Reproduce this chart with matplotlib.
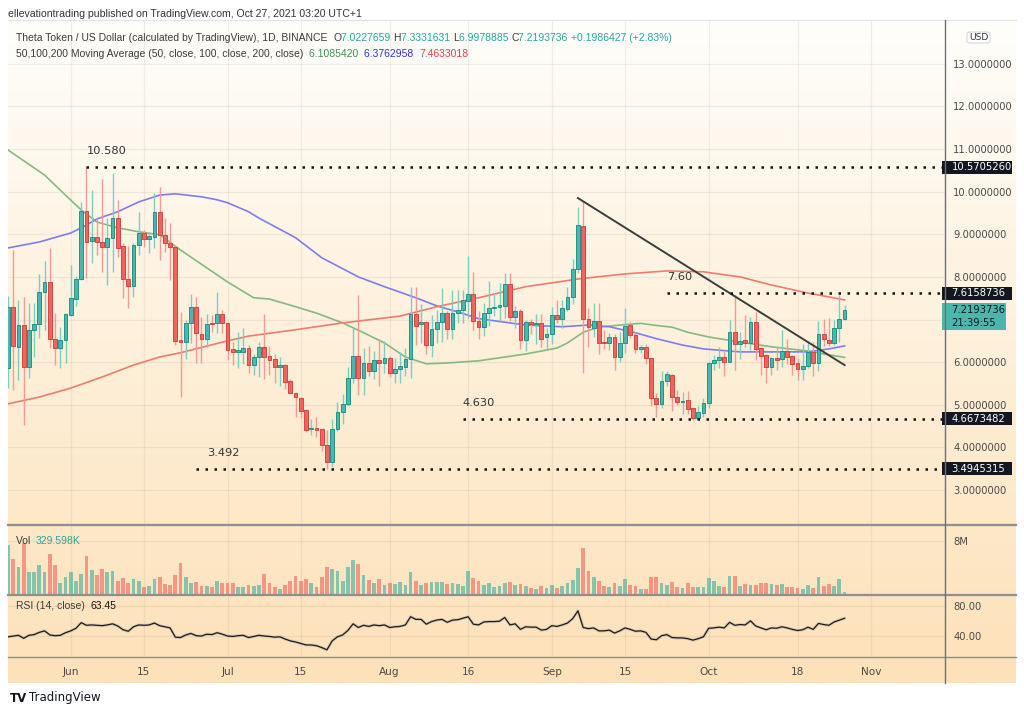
import numpy as np
import pandas as pd
import matplotlib
matplotlib.use("Agg")
import matplotlib.pyplot as plt
import matplotlib.dates as mdates
from matplotlib.patches import Rectangle, FancyBboxPatch
from matplotlib.lines import Line2D
from matplotlib.transforms import blended_transform_factory

plt.rcParams['font.family'] = ['DejaVu Sans']

# ---- data ----
start = "2021-05-20"
opens = [5.86, 7.30, 6.36, 6.87, 5.89, 6.76, 6.90, 7.65, 7.88, 6.54, 6.33, 6.52,
         7.11, 7.48, 7.95, 9.55, 8.85, 8.94, 8.82, 8.70, 8.92, 9.38, 8.73, 7.95, 7.79, 8.75, 9.03,
         8.89, 8.94, 9.53, 8.99, 8.80, 8.70, 6.52, 6.48, 6.92, 7.30, 6.66, 6.55, 6.92, 6.92, 7.13,
         6.92, 6.31, 6.24, 6.24, 6.33, 5.93, 6.12, 6.36, 6.14, 6.07, 5.89, 5.93, 5.56, 5.28, 5.16,
         4.88, 4.43, 4.45, 4.43, 4.06, 3.66, 4.43, 4.83, 5.02, 5.63, 6.14, 5.63, 5.98, 5.79, 6.05, 5.98,
         6.10, 5.75, 5.84, 5.89, 6.07, 7.13, 6.90, 6.94, 6.40, 6.78, 6.94, 7.15, 6.78, 7.15, 7.23,
         7.44, 7.60, 6.97, 6.83, 7.15, 7.27, 7.30, 7.32, 7.84, 7.06, 7.20, 6.52, 6.94, 6.90, 6.92, 6.59,
         6.66, 7.11, 7.01, 7.25, 7.53, 8.19, 9.20, 7.01, 6.80, 6.97, 6.47, 6.45, 6.59, 6.12, 6.45,
         6.87, 6.64, 6.31, 6.36, 6.10, 5.16, 5.02, 5.56, 5.70, 5.18, 5.07, 5.11, 4.92, 4.69, 4.81,
         5.04, 5.98, 6.05, 6.12, 6.01, 6.71, 6.43, 6.52, 6.45, 6.94, 6.33, 6.17, 5.89, 6.10, 6.08,
         6.26, 6.14, 5.98, 5.84, 5.91, 6.24, 5.98, 6.66, 6.52, 6.45, 6.80, 7.02]
highs = [7.55, 8.63, 7.46, 7.53, 7.39, 7.39, 8.07, 8.38, 8.68, 7.15, 6.83, 7.15,
         8.28, 8.02, 9.76, 10.57, 10.04, 9.38, 10.30, 9.38, 10.44, 9.81, 8.80, 8.73, 8.80, 9.53, 9.10,
         9.03, 9.97, 10.11, 9.38, 9.27, 8.75, 7.18, 7.00, 7.60, 7.53, 7.06, 7.13, 7.11, 7.65, 7.23,
         6.95, 6.47, 6.70, 6.80, 6.40, 6.20, 6.47, 7.13, 6.38, 6.20, 6.12, 5.95, 5.60, 5.30, 5.18,
         4.90, 4.67, 4.72, 4.45, 4.41, 4.67, 5.06, 5.25, 5.88, 6.80, 7.58, 6.33, 6.38, 6.26, 6.50, 6.50,
         6.15, 6.10, 6.23, 6.33, 7.77, 7.77, 7.36, 6.97, 7.10, 7.23, 7.73, 7.20, 7.69, 7.69, 7.69,
         8.49, 8.12, 7.20, 7.39, 7.91, 7.62, 7.85, 8.09, 8.09, 7.32, 7.25, 7.00, 7.01, 7.13, 7.13, 6.80,
         7.30, 7.46, 7.46, 7.77, 8.42, 9.64, 9.78, 7.27, 7.39, 7.39, 6.76, 6.69, 6.66, 6.71, 7.27,
         6.94, 6.71, 6.40, 6.42, 6.12, 5.28, 5.79, 5.79, 5.72, 5.35, 5.31, 5.33, 4.95, 4.97, 5.16,
         6.00, 6.17, 6.36, 6.29, 6.99, 7.57, 6.71, 7.11, 7.06, 7.18, 6.36, 6.19, 6.12, 6.36, 6.76,
         6.55, 6.16, 6.10, 6.43, 6.50, 6.47, 6.97, 7.01, 7.04, 6.99, 7.58, 7.33]
lows = [5.40, 5.35, 5.58, 4.53, 5.63, 6.12, 6.57, 6.76, 6.33, 5.93, 5.86, 5.98,
        7.08, 7.32, 7.93, 7.98, 8.33, 8.52, 8.12, 7.81, 8.12, 8.47, 7.51, 7.27, 7.53, 8.52, 8.70,
        8.56, 8.68, 8.40, 8.59, 7.93, 6.40, 5.18, 6.08, 6.45, 5.98, 5.98, 6.36, 6.71, 6.69, 6.69,
        6.05, 5.93, 5.85, 5.95, 5.75, 5.70, 5.66, 5.60, 5.70, 5.52, 5.45, 5.38, 5.24, 4.72, 4.69,
        4.36, 4.28, 4.24, 3.91, 3.49, 3.54, 4.38, 4.55, 4.98, 5.50, 5.23, 5.23, 5.68, 5.61, 5.45, 5.74,
        5.64, 5.50, 5.50, 5.68, 5.63, 6.40, 6.45, 6.19, 6.12, 6.45, 6.47, 6.55, 6.55, 6.92, 6.92,
        7.04, 6.76, 6.55, 6.62, 6.85, 7.08, 6.97, 7.04, 6.97, 6.80, 6.31, 6.27, 6.66, 6.43, 6.36, 6.31,
        6.43, 6.92, 6.80, 7.20, 7.36, 8.10, 5.75, 6.36, 6.59, 6.19, 6.31, 6.29, 5.82, 6.00, 6.22,
        6.57, 6.22, 6.22, 5.96, 4.98, 4.71, 4.93, 5.45, 4.85, 5.00, 4.79, 4.79, 4.64, 4.64, 4.71,
        4.92, 5.82, 5.86, 5.68, 6.00, 5.82, 6.08, 6.36, 6.29, 6.05, 5.70, 5.51, 5.70, 5.82, 5.89,
        5.96, 5.70, 5.58, 5.58, 5.86, 5.68, 5.79, 6.38, 6.38, 6.40, 6.47, 7.00]
closes = [7.30, 6.38, 6.87, 5.89, 6.76, 6.90, 7.65, 7.88, 6.54, 6.33, 6.52, 7.13,
          7.51, 7.95, 9.55, 8.82, 8.94, 8.82, 8.70, 8.92, 9.38, 8.68, 7.95, 7.79, 8.75, 9.03, 8.89,
          8.96, 9.53, 8.99, 8.80, 8.70, 6.50, 6.48, 6.92, 7.30, 6.69, 6.55, 6.90, 6.90, 7.13, 6.92,
          6.29, 6.24, 6.29, 6.33, 5.93, 6.12, 6.36, 6.12, 6.05, 5.89, 5.93, 5.54, 5.28, 5.18, 4.85,
          4.41, 4.45, 4.41, 4.06, 3.66, 4.43, 4.83, 5.02, 5.63, 6.14, 5.63, 5.98, 5.79, 6.05, 5.98, 6.10,
          5.75, 5.84, 5.91, 6.07, 7.13, 6.85, 6.94, 6.40, 6.78, 6.94, 7.15, 6.78, 7.15, 7.23, 7.46,
          7.60, 6.97, 6.83, 7.15, 7.27, 7.30, 7.34, 7.84, 7.06, 7.20, 6.52, 6.94, 6.90, 6.92, 6.55, 6.66,
          7.11, 7.01, 7.27, 7.53, 8.19, 9.22, 7.01, 6.83, 6.97, 6.45, 6.45, 6.59, 6.12, 6.45, 6.85,
          6.64, 6.31, 6.36, 6.10, 5.16, 5.02, 5.56, 5.72, 5.18, 5.07, 5.09, 4.90, 4.69, 4.83, 5.04,
          5.98, 6.05, 6.12, 6.01, 6.71, 6.43, 6.50, 6.45, 6.94, 6.31, 6.14, 5.89, 6.10, 6.05, 6.26,
          6.12, 5.96, 5.84, 5.91, 6.24, 5.98, 6.66, 6.55, 6.45, 6.80, 7.01, 7.22]
volumes = [7.4, 5.3, 4.0, 7.7, 3.3, 3.3, 4.3, 3.3, 6.0, 4.3, 1.6, 2.5,
           3.3, 1.9, 3.0, 5.8, 3.6, 2.8, 3.7, 3.3, 3.5, 2.0, 2.4, 1.6, 2.2, 1.9, 1.1, 1.2, 2.2, 2.6, 1.5,
           1.3, 2.9, 4.6, 2.5, 1.7, 1.8, 1.2, 1.2, 1.0, 1.9, 1.6,
           1.7, 1.6, 1.0, 1.1, 1.4, 1.2, 1.4, 3.0, 1.7, 1.0, 0.8, 1.3, 1.9, 2.7, 1.9, 2.2, 1.6, 1.1, 2.5,
           4.1, 3.7, 3.4, 2.0, 4.1, 5.1, 4.5, 2.9, 2.1, 1.6, 2.2, 1.4,
           1.6, 1.5, 1.8, 1.4, 3.3, 2.0, 1.3, 1.7, 1.8, 1.8, 1.8, 1.5, 1.7, 1.5, 1.2, 3.5, 2.4, 1.9, 1.3,
           1.6, 1.0, 1.2, 1.7, 1.8, 1.3, 1.5, 1.2, 0.9, 0.7, 1.2, 0.9,
           1.3, 0.9, 1.2, 1.6, 2.1, 3.9, 7.0, 3.5, 2.6, 2.0, 1.2, 1.1, 1.6, 1.2, 2.2, 1.3, 1.2, 0.8, 0.7,
           2.6, 2.6, 1.6, 1.3, 1.8, 1.1, 0.9, 1.6, 1.1, 1.0, 1.1,
           2.4, 2.0, 1.2, 1.0, 2.7, 2.7, 1.2, 1.5, 1.4, 1.4, 1.6, 1.6, 1.5, 1.3, 1.5, 1.0, 1.1, 0.9, 0.8,
           1.3, 0.9, 2.5, 1.2, 1.5, 1.2, 2.3, 0.33]
rsi = [38.5, 39.5, 40.5, 36.5, 40.5, 41.5, 44.5, 46.5, 41.0, 40.0, 40.5, 44.0,
       46.5, 50.0, 57.5, 54.0, 54.5, 54.0, 53.5, 54.5, 56.0, 53.0, 48.0, 46.0, 52.0, 54.5, 54.0,
       54.5, 57.0, 53.5, 52.0, 50.5, 38.0, 37.5, 41.0, 43.0, 40.0, 39.5, 42.0, 41.5, 44.0, 42.0,
       39.5, 39.0, 40.0, 40.5, 37.5, 39.0, 40.5, 39.5, 39.0, 38.0, 38.5, 35.5, 33.0, 31.5, 29.5,
       27.5, 27.5, 26.5, 24.0, 21.0, 33.0, 38.5, 41.0, 47.0, 56.0, 51.0, 54.0, 52.5, 54.5, 53.5, 54.5,
       51.0, 52.0, 52.5, 54.5, 65.5, 62.0, 62.0, 55.5, 59.0, 61.0, 62.0, 58.0, 61.0, 61.5, 63.5,
       65.5, 55.5, 54.5, 58.5, 59.0, 59.0, 59.5, 64.5, 54.5, 56.0, 48.5, 52.0, 51.5, 51.5, 47.5, 48.5,
       53.5, 52.5, 54.5, 57.0, 63.0, 73.5, 51.0, 49.5, 50.5, 46.5, 46.5, 47.5, 43.5, 46.5, 50.5,
       48.5, 46.0, 46.5, 44.5, 35.5, 34.5, 40.0, 41.5, 37.5, 37.0, 37.0, 36.0, 34.0, 36.0, 38.5,
       50.0, 50.5, 51.5, 50.5, 58.0, 54.0, 55.0, 54.5, 60.0, 53.0, 50.5, 48.0, 50.5, 50.0, 52.0,
       50.5, 48.5, 47.0, 48.0, 51.5, 48.5, 56.5, 55.0, 54.0, 58.5, 61.0, 63.45]

ma50_dates = ["2021-05-20", "2021-05-27", "2021-05-31", "2021-06-03", "2021-06-06", "2021-06-10",
              "2021-06-14", "2021-06-18", "2021-06-22", "2021-07-01", "2021-07-06", "2021-07-09",
              "2021-07-14", "2021-07-18", "2021-07-23", "2021-07-27", "2021-07-31", "2021-08-04",
              "2021-08-08", "2021-08-12", "2021-08-18", "2021-08-27", "2021-09-02", "2021-09-04",
              "2021-09-07", "2021-09-10", "2021-09-14", "2021-09-18", "2021-09-21", "2021-09-24",
              "2021-09-27", "2021-10-01", "2021-10-07", "2021-10-13", "2021-10-20", "2021-10-24",
              "2021-10-27"]
ma50 = [10.98, 10.39, 9.92, 9.57, 9.29, 9.15, 9.06, 8.99, 8.63, 7.88, 7.51, 7.48, 7.30, 7.15,
        6.92, 6.69, 6.45, 6.12, 5.96, 5.98, 6.03, 6.19, 6.33, 6.45, 6.70, 6.82, 6.87, 6.91, 6.86,
        6.82, 6.70, 6.59, 6.47, 6.36, 6.26, 6.17, 6.11]
ma100_dates = ["2021-05-20", "2021-05-26", "2021-06-01", "2021-06-03", "2021-06-06", "2021-06-10",
               "2021-06-14", "2021-06-18", "2021-06-21", "2021-06-26", "2021-06-29", "2021-07-01",
               "2021-07-05", "2021-07-07", "2021-07-14", "2021-07-19", "2021-07-26", "2021-07-31",
               "2021-08-06", "2021-08-10", "2021-08-14", "2021-08-18", "2021-08-27", "2021-09-03",
               "2021-09-08", "2021-09-12", "2021-09-17", "2021-09-21", "2021-09-26", "2021-09-30",
               "2021-10-07", "2021-10-13", "2021-10-20", "2021-10-24", "2021-10-27"]
ma100 = [8.68, 8.82, 9.03, 9.15, 9.36, 9.53, 9.76, 9.92, 9.95, 9.88, 9.81, 9.74, 9.53, 9.38,
         8.92, 8.45, 8.00, 7.77, 7.51, 7.32, 7.18, 7.02, 6.87, 6.83, 6.87, 6.83, 6.69, 6.55, 6.40,
         6.31, 6.24, 6.24, 6.24, 6.31, 6.38]
ma200_dates = ["2021-05-20", "2021-05-26", "2021-06-01", "2021-06-07", "2021-06-13", "2021-06-18",
               "2021-06-22", "2021-07-01", "2021-07-05", "2021-07-14", "2021-07-23", "2021-08-03",
               "2021-08-10", "2021-08-18", "2021-08-27", "2021-09-06", "2021-09-15", "2021-09-23",
               "2021-09-30", "2021-10-07", "2021-10-13", "2021-10-20", "2021-10-24", "2021-10-27"]
ma200 = [5.02, 5.18, 5.39, 5.65, 5.93, 6.12, 6.22, 6.50, 6.61, 6.76, 6.92, 7.08, 7.30, 7.51,
         7.77, 7.95, 8.07, 8.14, 8.12, 8.00, 7.81, 7.62, 7.53, 7.46]

trend_dates = ["2021-09-06", "2021-10-27"]
trend_prices = [9.85, 5.93]

level_prices = [10.5705260, 7.6158736, 4.6673482, 3.4945315]
level_starts = ["2021-06-04", "2021-09-23", "2021-08-15", "2021-06-25"]
level_texts = ["10.580", "7.60", "4.630", "3.492"]
level_text_dates = ["2021-06-04", "2021-09-23", "2021-08-15", "2021-06-27"]

price_ticks = [3, 4, 5, 6, 8, 9, 10, 11, 12, 13]
tick_dates = ["2021-06-01", "2021-06-15", "2021-07-01", "2021-07-15", "2021-08-01", "2021-08-16",
              "2021-09-01", "2021-09-15", "2021-10-01", "2021-10-18", "2021-11-01"]
tick_labels = ["Jun", "15", "Jul", "15", "Aug", "16", "Sep", "15", "Oct", "18", "Nov"]

assert len(opens) == len(highs) == len(lows) == len(closes) == len(volumes) == len(rsi) == 161

# ---- figure ----
W, H = 1024, 714
fig = plt.figure(figsize=(W / 100, H / 100), dpi=100)
fig.patch.set_facecolor("white")

def rect(l, t, r, b):
    return [l / W, 1 - b / H, (r - l) / W, (b - t) / H]

# gradient background
ax_bg = fig.add_axes(rect(8, 20, 1016, 683))
top_c = np.array([255, 254, 251]) / 255
bot_c = np.array([253, 225, 184]) / 255
tt = np.linspace(0, 1, 256)[:, None]
grad = (top_c[None, :] * (1 - tt) + bot_c[None, :] * tt)[:, None, :]
ax_bg.imshow(grad, aspect="auto", extent=[0, 1, 0, 1])
ax_bg.axis("off")
ax_bg.set_zorder(-5)

ax = fig.add_axes(rect(8, 20, 945, 524))
axv = fig.add_axes(rect(8, 525, 945, 594), sharex=ax)
axr = fig.add_axes(rect(8, 595, 945, 657), sharex=ax)
for a in (ax, axv, axr):
    a.set_facecolor("none")
    for s in a.spines.values():
        s.set_visible(False)
    a.yaxis.tick_right()
    a.tick_params(axis="both", length=0, colors="#4a4a4a", labelsize=7.2)

dates = pd.date_range(start, periods=len(opens), freq="D")
x = mdates.date2num(dates)
o = np.array(opens); c = np.array(closes); hi = np.array(highs); lo = np.array(lows)
up = c >= o

jun1 = mdates.date2num(pd.Timestamp("2021-06-01"))
ax.set_xlim(jun1 - 12.0, jun1 + 167.2)
ax.set_ylim(2.20, 14.03)
axv.set_ylim(0, 10.4)
axr.set_ylim(11.3, 94.8)

grid_c = (0.55, 0.5, 0.45, 0.12)
tdx = mdates.date2num(pd.to_datetime(tick_dates))
for a in (ax, axv, axr):
    for t in tdx:
        a.axvline(t, color=grid_c, lw=0.9, zorder=0)
for p in price_ticks + [7]:
    ax.axhline(p, color=grid_c, lw=0.9, zorder=0)
axv.axhline(8, color=grid_c, lw=0.9, zorder=0)
for p in (40, 80):
    axr.axhline(p, color=grid_c, lw=0.9, zorder=0)

# candles
wick_col = np.where(up, "#7ccdc3", "#f59a94")
fill_col = np.where(up, "#4db6ac", "#ef6461")
edge_col = np.where(up, "#1f9488", "#d94441")
ax.vlines(x, lo, hi, colors=wick_col, lw=1.0, zorder=3)
ax.bar(x, np.maximum(np.abs(c - o), 0.025), bottom=np.minimum(o, c), width=0.72,
       color=fill_col, edgecolor=edge_col, linewidth=0.7, zorder=4)

# moving averages
ax.plot(pd.to_datetime(ma50_dates), ma50, color="#86b97f", lw=1.2, zorder=2)
ax.plot(pd.to_datetime(ma100_dates), ma100, color="#7d7cf2", lw=1.2, zorder=2)
ax.plot(pd.to_datetime(ma200_dates), ma200, color="#f27a70", lw=1.2, zorder=2)

# trend line
ax.plot(pd.to_datetime(trend_dates), trend_prices, color="#3d3d3d", lw=1.4, zorder=5)

# horizontal levels
xr = ax.get_xlim()[1]
for p, s, txt, td in zip(level_prices, level_starts, level_texts, level_text_dates):
    xs = mdates.date2num(pd.Timestamp(s))
    ax.hlines(p, xs, xr, colors="#111111", linestyles=(0, (1.0, 2.6)), lw=1.8, zorder=5)
    ax.annotate(txt, xy=(mdates.date2num(pd.Timestamp(td)), p), xytext=(0, 8),
                textcoords="offset points", fontsize=8.2, color="#333333", ha="left", va="bottom")

# price axis labels
ax.set_yticks(price_ticks)
ax.set_yticklabels([f"{v:.7f}" for v in price_ticks])
ax.tick_params(axis="y", pad=6)
plt.setp(ax.get_xticklabels(), visible=False)
plt.setp(axv.get_xticklabels(), visible=False)

bt = blended_transform_factory(ax.transAxes, ax.transData)
def axfrac(px):
    return (px - 8) / 937.0
unit = 1 / 42.6
for p in level_prices:
    ax.add_patch(Rectangle((axfrac(941.5), p - 6.5 * unit), axfrac(1012) - axfrac(941.5), 13 * unit,
                           transform=bt, facecolor="#131722", edgecolor="none", clip_on=False, zorder=10))
    ax.text(axfrac(951.5), p, f"{p:.7f}", transform=bt, color="white", fontsize=7.2,
            va="center", ha="left", clip_on=False, zorder=11)
ax.add_patch(Rectangle((axfrac(941.5), 13 - (330 - 64) * unit), axfrac(1006) - axfrac(941.5),
                       27 * unit, transform=bt, facecolor="#4db6ac", edgecolor="none",
                       clip_on=False, zorder=10))
ax.text(axfrac(951.5), 13 - (310.5 - 64) * unit, f"{closes[-1] - 0.0006264:.7f}", transform=bt,
        color="#131722", fontsize=7.2, va="center", ha="left", clip_on=False, zorder=11)
ax.text(axfrac(951.5), 13 - (323.5 - 64) * unit, "21:39:55", transform=bt, color="#131722",
        fontsize=7.2, va="center", ha="left", clip_on=False, zorder=11)

# volume
vcol = np.where(up, "#26a69a", "#ef5350")
axv.bar(x, volumes, width=0.72, color=vcol, alpha=0.55, linewidth=0, zorder=3)
axv.set_yticks([8])
axv.set_yticklabels(["8M"])
axv.tick_params(axis="y", pad=6)

# rsi
axr.plot(x, rsi, color="#9a9a9a", lw=2.2, alpha=0.35, zorder=2)
axr.plot(x, rsi, color="#1a1a1a", lw=0.9, zorder=3)
axr.set_yticks([40, 80])
axr.set_yticklabels(["40.00", "80.00"])
axr.tick_params(axis="y", pad=6)
axr.set_xticks(tdx)
axr.set_xticklabels(tick_labels)
axr.tick_params(axis="x", pad=7, labelsize=7.6, colors="#4a4a4a")

# separators / borders
def fline(x0, y0, x1, y1, color, lw):
    fig.add_artist(Line2D([x0 / W, x1 / W], [1 - y0 / H, 1 - y1 / H], color=color, lw=lw))
fline(8, 20, 1016, 20, "#e3e3e3", 0.8)
fline(8, 524.5, 1016, 524.5, "#8f8f8f", 1.6)
fline(8, 594.5, 1016, 594.5, "#8f8f8f", 1.6)
fline(8, 657, 1016, 657, "#8f8f8f", 1.0)
fline(945, 20, 945, 683, "#6f6f6f", 1.0)

# header texts
hfont = ["Liberation Sans", "DejaVu Sans"]
def chain(x0, y0, parts, size):
    t = fig.text(x0 / W, 1 - y0 / H, parts[0][0], color=parts[0][1], fontsize=size,
                 ha="left", va="center", family=hfont)
    for s, col in parts[1:]:
        t = ax.annotate(s, xy=(1, 0), xycoords=t, xytext=(0, 0), textcoords="offset points",
                        color=col, fontsize=size, ha="left", va="bottom", annotation_clip=False,
                        family=hfont)
    return t

dark = "#3b3b3b"
teal = "#26a69a"
fig.text(8 / W, 1 - 14 / H, "ellevationtrading published on TradingView.com, Oct 27, 2021 03:20 UTC+1",
         fontsize=7.6, color="#333333", ha="left", va="center", family=hfont)
chain(16, 38, [("Theta Token / US Dollar (calculated by TradingView), 1D, BINANCE  ", dark),
               ("O", dark), ("7.0227659 ", teal), ("H", dark), ("7.3331631 ", teal),
               ("L", dark), ("6.9978885 ", teal), ("C", dark), ("7.2193736 ", teal),
               ("+0.1986427 (+2.83%)", teal)], 7.5)
chain(16, 54, [("50,100,200 Moving Average (50, close, 100, close, 200, close)  ", dark),
               ("6.1085420  ", "#3f8f55"), ("6.3762958  ", "#2f2ff0"), ("7.4633018", "#f23c3c")], 7.5)
chain(16, 541, [("Vol  ", dark), ("329.598K", teal)], 7.5)
chain(16, 606, [("RSI (14, close)  ", dark), ("63.45", "#111111")], 7.5)

# USD box
fig.add_artist(FancyBboxPatch((967 / W, 1 - 43 / H), 23 / W, 11 / H,
                              boxstyle="round,pad=0,rounding_size=0.003", facecolor="white",
                              edgecolor="#d6d6d6", lw=0.8, transform=fig.transFigure))
fig.text(978.5 / W, 1 - 37.5 / H, "USD", fontsize=6.6, color="#333333", ha="center", va="center")

# footer
fig.text(10 / W, 1 - 698 / H, "TV", fontsize=8.5, weight="bold", color="#131722",
         ha="left", va="center")
fig.text(29 / W, 1 - 698 / H, "TradingView", fontsize=8.5, color="#131722", ha="left", va="center")

fig.savefig("out.png", dpi=100)
